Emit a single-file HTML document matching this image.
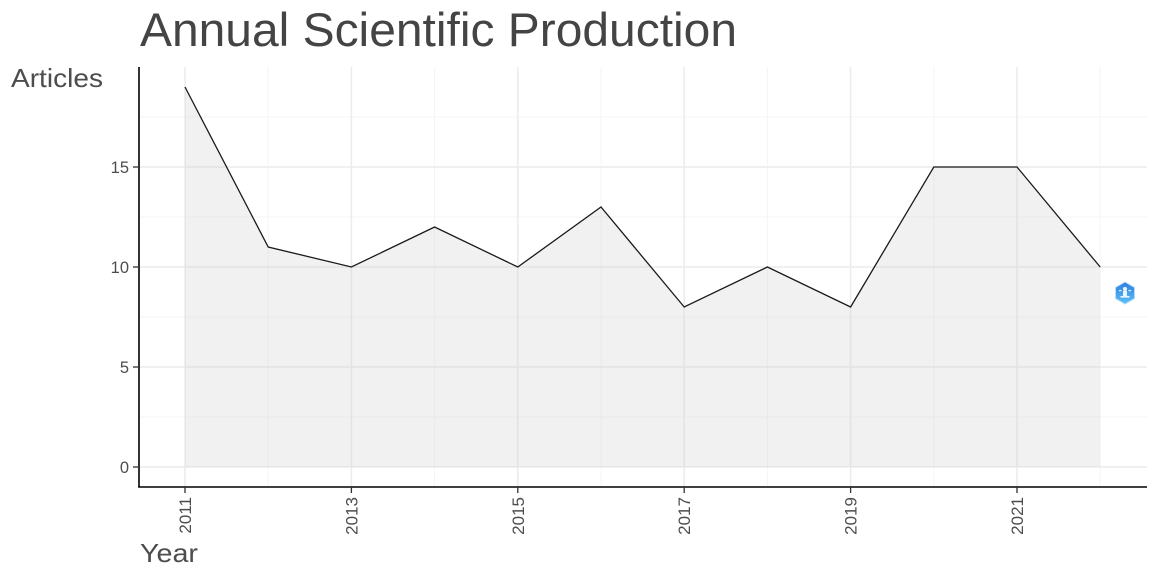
<!DOCTYPE html>
<html>
<head>
<meta charset="utf-8">
<style>
  html, body { margin: 0; padding: 0; background: #ffffff; }
  svg { display: block; }
  text { font-family: "Liberation Sans", Arial, sans-serif; }
</style>
</head>
<body>
<svg width="1158" height="579" viewBox="0 0 1158 579" xmlns="http://www.w3.org/2000/svg">
  <defs>
    <linearGradient id="lg" x1="0" y1="0" x2="0" y2="1">
      <stop offset="0" stop-color="#2f7fe0"/>
      <stop offset="1" stop-color="#5cc0f5"/>
    </linearGradient>
  </defs>
  <rect x="0" y="0" width="1158" height="579" fill="#ffffff"/>

  <!-- minor grid lines -->
  <g stroke="#f4f4f4" stroke-width="1">
    <line x1="139" y1="117" x2="1147" y2="117"/>
    <line x1="139" y1="217" x2="1147" y2="217"/>
    <line x1="139" y1="317" x2="1147" y2="317"/>
    <line x1="139" y1="417" x2="1147" y2="417"/>
    <line x1="268.2" y1="67" x2="268.2" y2="487"/>
    <line x1="434.6" y1="67" x2="434.6" y2="487"/>
    <line x1="601" y1="67" x2="601" y2="487"/>
    <line x1="767.4" y1="67" x2="767.4" y2="487"/>
    <line x1="933.8" y1="67" x2="933.8" y2="487"/>
    <line x1="1100.2" y1="67" x2="1100.2" y2="487"/>
  </g>
  <!-- major grid lines -->
  <g stroke="#ececec" stroke-width="1.5">
    <line x1="139" y1="167" x2="1147" y2="167"/>
    <line x1="139" y1="267" x2="1147" y2="267"/>
    <line x1="139" y1="367" x2="1147" y2="367"/>
    <line x1="139" y1="467" x2="1147" y2="467"/>
    <line x1="185" y1="67" x2="185" y2="487"/>
    <line x1="351.4" y1="67" x2="351.4" y2="487"/>
    <line x1="517.8" y1="67" x2="517.8" y2="487"/>
    <line x1="684.2" y1="67" x2="684.2" y2="487"/>
    <line x1="850.6" y1="67" x2="850.6" y2="487"/>
    <line x1="1017" y1="67" x2="1017" y2="487"/>
  </g>

  <!-- area -->
  <polygon fill="#c8c8c8" fill-opacity="0.25"
    points="185,87 268.2,247 351.4,267 434.6,227 517.8,267 601,207 684.2,307 767.4,267 850.6,307 933.8,167 1017,167 1100.2,267 1100.2,467 185,467"/>
  <!-- line -->
  <polyline fill="none" stroke="#1a1a1a" stroke-width="1.3"
    points="185,87 268.2,247 351.4,267 434.6,227 517.8,267 601,207 684.2,307 767.4,267 850.6,307 933.8,167 1017,167 1100.2,267"/>

  <!-- axes -->
  <line x1="139" y1="67" x2="139" y2="487.5" stroke="#000" stroke-width="1.6"/>
  <line x1="138.2" y1="487" x2="1147" y2="487" stroke="#000" stroke-width="1.6"/>

  <!-- y ticks -->
  <g stroke="#333" stroke-width="1.3">
    <line x1="133" y1="167" x2="139" y2="167"/>
    <line x1="133" y1="267" x2="139" y2="267"/>
    <line x1="133" y1="367" x2="139" y2="367"/>
    <line x1="133" y1="467" x2="139" y2="467"/>
  </g>
  <g font-size="16.5" fill="#4d4d4d" text-anchor="end">
    <text x="129" y="173">15</text>
    <text x="129" y="273">10</text>
    <text x="129" y="373">5</text>
    <text x="129" y="473">0</text>
  </g>

  <!-- x ticks -->
  <g stroke="#333" stroke-width="1.3">
    <line x1="185" y1="487" x2="185" y2="493"/>
    <line x1="351.4" y1="487" x2="351.4" y2="493"/>
    <line x1="517.8" y1="487" x2="517.8" y2="493"/>
    <line x1="684.2" y1="487" x2="684.2" y2="493"/>
    <line x1="850.6" y1="487" x2="850.6" y2="493"/>
    <line x1="1017" y1="487" x2="1017" y2="493"/>
  </g>
  <g font-size="17" fill="#4d4d4d" text-anchor="end">
    <text transform="translate(191,497) rotate(-90)">2011</text>
    <text transform="translate(357.4,497) rotate(-90)">2013</text>
    <text transform="translate(523.8,497) rotate(-90)">2015</text>
    <text transform="translate(690.2,497) rotate(-90)">2017</text>
    <text transform="translate(856.6,497) rotate(-90)">2019</text>
    <text transform="translate(1023,497) rotate(-90)">2021</text>
  </g>

  <!-- titles -->
  <text x="140" y="46" font-size="47" fill="#444444" textLength="597" lengthAdjust="spacingAndGlyphs">Annual Scientific Production</text>
  <text x="11" y="87" font-size="26" fill="#4d4d4d" textLength="92" lengthAdjust="spacingAndGlyphs">Articles</text>
  <text x="140" y="562" font-size="26" fill="#4d4d4d" textLength="58" lengthAdjust="spacingAndGlyphs">Year</text>

  <!-- logo icon -->
  <g transform="translate(1125,293)">
    <polygon points="0,-11 9.5,-5.5 9.5,5.5 0,11 -9.5,5.5 -9.5,-5.5" fill="url(#lg)" stroke="#b5dcff" stroke-width="1"/>
    <circle cx="0" cy="-4" r="2" fill="#eaf6ff"/>
    <rect x="-2" y="-2" width="4" height="5" fill="#eaf6ff"/>
    <rect x="-4.5" y="3" width="9" height="1.6" fill="#eaf6ff"/>
    <rect x="-6" y="-3" width="2.5" height="1.2" fill="#eaf6ff"/>
    <rect x="3.5" y="-3" width="2.5" height="1.2" fill="#eaf6ff"/>
  </g>
</svg>
</body>
</html>
